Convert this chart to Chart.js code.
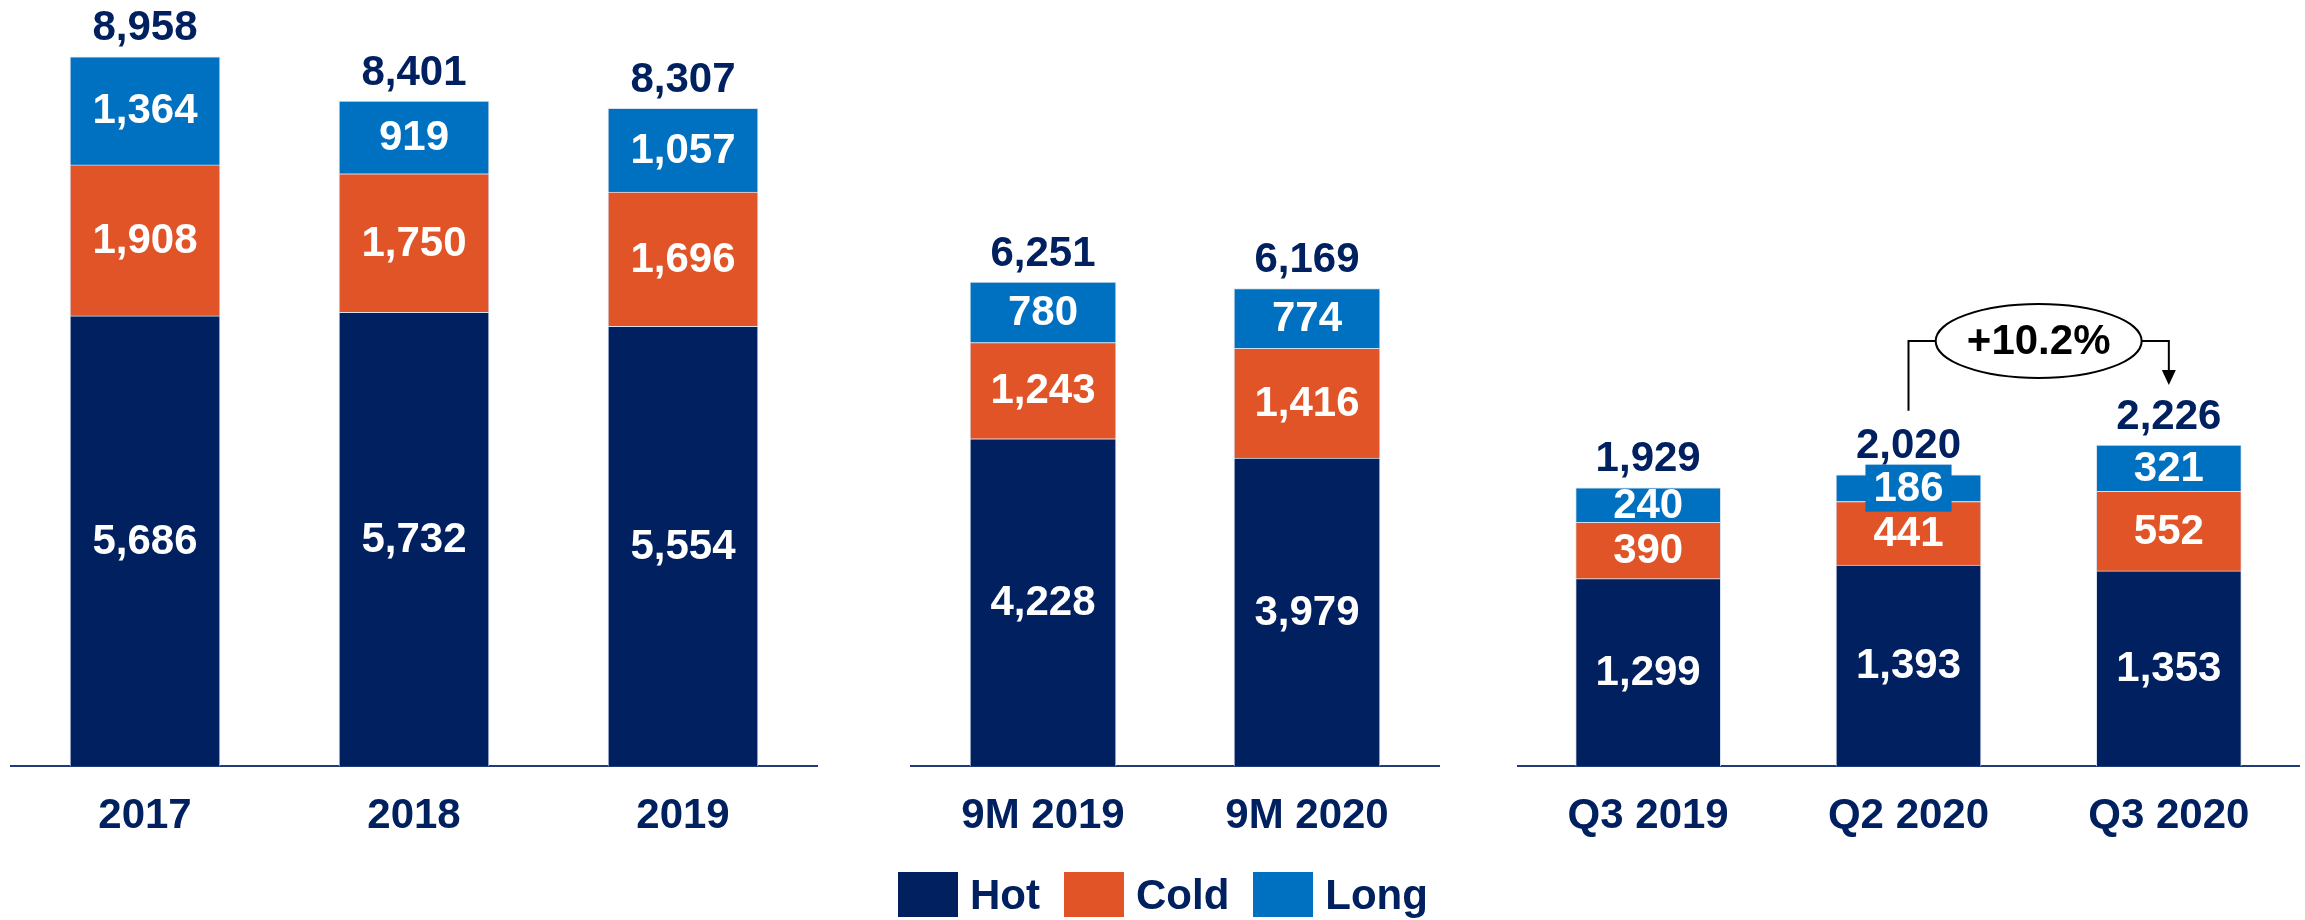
<!DOCTYPE html>
<html>
<head>
<meta charset="utf-8">
<script src="https://cdn.jsdelivr.net/npm/chart.js@4.4.0/dist/chart.umd.min.js"></script>
<style>
  html, body { margin: 0; padding: 0; background: #fff; }
  body { width: 2305px; height: 920px; position: relative; overflow: hidden; font-family: "Liberation Sans", Arial, sans-serif; }
  .panel { position: absolute; top: 0; height: 920px; }
  #legend { position: absolute; left: 898px; top: 872px; display: flex; align-items: center; }
  .item { display: flex; align-items: center; margin-right: 24px; }
  .swatch { width: 60px; height: 45px; margin-right: 12px; }
  .name { font-weight: bold; font-size: 42px; color: #002060; line-height: 45px; }
</style>
</head>
<body>
<div class="panel" style="left:0;width:830px"><canvas id="years"></canvas></div>
<div class="panel" style="left:850px;width:620px"><canvas id="nine"></canvas></div>
<div class="panel" style="left:1490px;width:815px"><canvas id="quarters"></canvas></div>
<div id="legend"></div>
<script>
const SERIES = ["Hot", "Cold", "Long"];
const COLORS = ["#002060", "#E05428", "#0070C0"];

const YEAR_LABELS = ["2017", "2018", "2019"];
const YEAR_HOT = [5686, 5732, 5554];
const YEAR_COLD = [1908, 1750, 1696];
const YEAR_LONG = [1364, 919, 1057];

const NINE_LABELS = ["9M 2019", "9M 2020"];
const NINE_HOT = [4228, 3979];
const NINE_COLD = [1243, 1416];
const NINE_LONG = [780, 774];

const QTR_LABELS = ["Q3 2019", "Q2 2020", "Q3 2020"];
const QTR_HOT = [1299, 1393, 1353];
const QTR_COLD = [390, 441, 552];
const QTR_LONG = [240, 186, 321];

const NAVY = "#002060";
const FONT = 'bold 42px "Liberation Sans", Arial, sans-serif';
const fmt = (v) => v.toLocaleString("en-US");

// white numbers inside segments + navy totals on top
const valueLabels = {
    id: "valueLabels",
    afterDatasetsDraw(chart) {
        const ctx = chart.ctx;
        ctx.save();
        ctx.font = FONT;
        ctx.textAlign = "center";
        ctx.textBaseline = "middle";
        chart.data.datasets.forEach((ds, i) => {
            chart.getDatasetMeta(i).data.forEach((bar, j) => {
                const text = fmt(ds.data[j]);
                const mid = (bar.y + bar.base) / 2;
                // too thin for the number: give it a box in the segment colour
                if (bar.base - bar.y < 30) {
                    const w = ctx.measureText(text).width + 16;
                    ctx.fillStyle = ds.backgroundColor;
                    ctx.fillRect(bar.x - w / 2, mid - 23.5, w, 47);
                }
                ctx.fillStyle = "#fff";
                ctx.fillText(text, bar.x, mid + 1);
            });
        });
        const n = chart.data.datasets.length;
        chart.getDatasetMeta(n - 1).data.forEach((bar, j) => {
            let total = 0;
            chart.data.datasets.forEach((ds) => (total += ds.data[j]));
            ctx.fillStyle = NAVY;
            ctx.fillText(fmt(total), bar.x, bar.y - 28);
        });
        ctx.restore();
    },
};

// Q2 2020 -> Q3 2020 growth bubble
const NOTE_FROM = 1;
const NOTE_TO = 2;
const growthNote = {
    id: "growthNote",
    afterDatasetsDraw(chart) {
        const ctx = chart.ctx;
        const top = chart.getDatasetMeta(chart.data.datasets.length - 1);
        const a = top.data[NOTE_FROM];
        const b = top.data[NOTE_TO];
        const sum = (j) => chart.data.datasets.reduce((s, ds) => s + ds.data[j], 0);
        const pct = (sum(NOTE_TO) / sum(NOTE_FROM) - 1) * 100;
        const text = "+" + pct.toFixed(1) + "%";

        const lineY = Math.min(a.y, b.y) - 104;
        const cx = (a.x + b.x) / 2;
        const rx = 103, ry = 37;
        const tipY = b.y - 60;

        ctx.save();
        ctx.strokeStyle = "#000";
        ctx.fillStyle = "#000";
        ctx.lineWidth = 2;
        ctx.beginPath();
        ctx.moveTo(a.x, a.y - 64);
        ctx.lineTo(a.x, lineY);
        ctx.lineTo(cx - rx, lineY);
        ctx.moveTo(cx + rx, lineY);
        ctx.lineTo(b.x, lineY);
        ctx.lineTo(b.x, tipY - 14);
        ctx.stroke();

        ctx.beginPath();
        ctx.moveTo(b.x - 7, tipY - 15);
        ctx.lineTo(b.x + 7, tipY - 15);
        ctx.lineTo(b.x, tipY);
        ctx.closePath();
        ctx.fill();

        ctx.beginPath();
        ctx.ellipse(cx, lineY, rx, ry, 0, 0, Math.PI * 2);
        ctx.fillStyle = "#fff";
        ctx.fill();
        ctx.stroke();

        ctx.fillStyle = "#000";
        ctx.font = FONT;
        ctx.textAlign = "center";
        ctx.textBaseline = "middle";
        ctx.fillText(text, cx, lineY + 1);
        ctx.restore();
    },
};

const makePanel = (id, labels, hot, cold, long, yMax, barWidth, padLeft, padRight, extra) => {
    const values = [hot, cold, long];
    new Chart(document.getElementById(id), {
        type: "bar",
        data: {
            labels: labels,
            datasets: SERIES.map((name, i) => ({
                label: name,
                data: values[i],
                backgroundColor: COLORS[i],
                borderColor: "rgba(214, 222, 236, 0.9)",
                borderWidth: 1,
                barThickness: barWidth,
            })),
        },
        options: {
            responsive: true,
            maintainAspectRatio: false,
            animation: false,
            layout: { padding: { left: padLeft, right: padRight, top: 0, bottom: 0 } },
            plugins: {
                legend: { display: false },
                tooltip: { enabled: false },
            },
            scales: {
                x: {
                    stacked: true,
                    grid: { display: false },
                    border: { display: true, color: "#1F3C78", width: 2 },
                    ticks: {
                        color: NAVY,
                        padding: 17,
                        font: { family: '"Liberation Sans", Arial, sans-serif', size: 42, weight: "bold" },
                    },
                    afterFit: (axis) => {
                        axis.height = 154;
                    },
                },
                y: {
                    stacked: true,
                    display: false,
                    min: 0,
                    max: yMax,
                },
            },
        },
        plugins: [valueLabels].concat(extra || []),
    });
};

makePanel("years", YEAR_LABELS, YEAR_HOT, YEAR_COLD, YEAR_LONG, 9677, 150, 10.5, 12.5);
makePanel("nine", NINE_LABELS, NINE_HOT, NINE_COLD, NINE_LONG, 9897, 146, 61, 31);
makePanel("quarters", QTR_LABELS, QTR_HOT, QTR_COLD, QTR_LONG, 5312, 145, 28, 6, [growthNote]);

const legend = document.getElementById("legend");
SERIES.forEach((name, i) => {
    const item = document.createElement("div");
    item.className = "item";
    item.innerHTML = '<div class="swatch" style="background:' + COLORS[i] + '"></div><div class="name">' + name + "</div>";
    legend.appendChild(item);
});
</script>
</body>
</html>
